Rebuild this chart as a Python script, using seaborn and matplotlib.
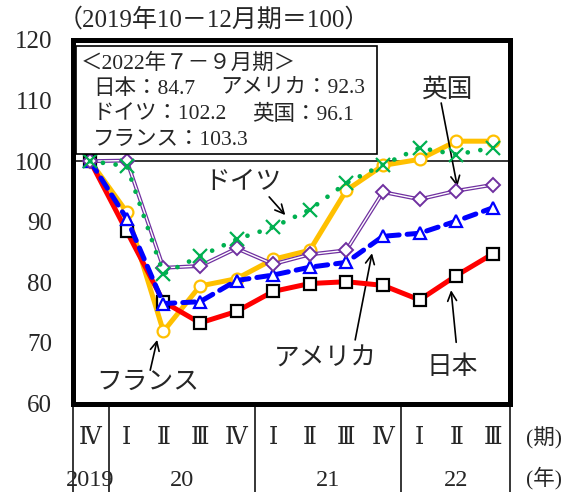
import numpy as np
import pandas as pd
import matplotlib
matplotlib.use("Agg")
import matplotlib.pyplot as plt
import matplotlib.transforms as mtransforms
from matplotlib.patches import Rectangle
from matplotlib.lines import Line2D
import seaborn as sns

# ---- data -------------------------------------------------------------
quarters = ["Ⅳ", "Ⅰ", "Ⅱ", "Ⅲ", "Ⅳ", "Ⅰ", "Ⅱ", "Ⅲ", "Ⅳ", "Ⅰ", "Ⅱ", "Ⅲ"]
years = ["2019", "20", "21", "22"]
year_pos = [0, 2.5, 6.5, 10]
year_breaks = [0.5, 4.5, 8.5]

japan = [100, 88.4, 76.8, 73.3, 75.2, 78.5, 79.8, 80.1, 79.5, 77.1, 81.1, 84.7]
usa = [100, 90.5, 76.5, 76.8, 80.3, 81.2, 82.5, 83.3, 87.6, 88.1, 90.1, 92.3]
uk = [100, 100.1, 82.4, 82.7, 85.6, 83.0, 84.6, 85.3, 94.9, 93.7, 95.1, 96.1]
germany = [100, 99.2, 81.4, 84.3, 87.1, 89.1, 92.0, 96.4, 99.4, 102.2, 101.1, 102.2]
france = [100, 91.6, 71.9, 79.4, 80.6, 83.8, 85.3, 95.2, 99.3, 100.3, 103.3, 103.3]

t = np.arange(len(quarters))

# ---- style ------------------------------------------------------------
sns.set_style("white")
plt.rcParams["font.family"] = ["Liberation Serif", "DejaVu Serif", "Noto Sans CJK JP"]
JP = ["Liberation Serif", "Noto Sans CJK JP"]

RED = "#FF0000"
BLUE = "#0000FF"
PURPLE = "#7030A0"
GREEN = "#00B050"
ORANGE = "#FFC000"

fig = plt.figure(figsize=(5.69, 4.92), dpi=100)
W, H = 569, 492
L, R, T, B = 73, 510, 40, 403.5
ax = fig.add_axes([L / W, 1 - B / H, (R - L) / W, (B - T) / H])


def frame(values):
    return pd.DataFrame({"t": t, "v": values})


# France (bottom layer)
sns.lineplot(data=frame(france), x="t", y="v", ax=ax, color=ORANGE, lw=3.6,
             marker="o", markersize=8.5, markerfacecolor="white",
             markeredgecolor=ORANGE, markeredgewidth=1.6, zorder=3)
# Japan
sns.lineplot(data=frame(japan), x="t", y="v", ax=ax, color=RED, lw=3.6,
             marker="s", markersize=8.5, markerfacecolor="white",
             markeredgecolor="black", markeredgewidth=1.6, zorder=4)
# USA
sns.lineplot(data=frame(usa), x="t", y="v", ax=ax, color=BLUE, lw=3.6,
             linestyle=(0, (2.4, 1.6)), dash_capstyle="round",
             marker="^", markersize=9, markerfacecolor="white",
             markeredgecolor=BLUE, markeredgewidth=1.6, zorder=5)
# UK: double line
sns.lineplot(data=frame(uk), x="t", y="v", ax=ax, color=PURPLE, lw=2.8, zorder=6)
sns.lineplot(data=frame(uk), x="t", y="v", ax=ax, color="white", lw=1.0,
             marker="D", markersize=7, markerfacecolor="white",
             markeredgecolor=PURPLE, markeredgewidth=1.4, zorder=6.5)
# Germany: dotted
sns.lineplot(data=frame(germany), x="t", y="v", ax=ax, color=GREEN, lw=3.4,
             linestyle=(0, (0.01, 2.7)), dash_capstyle="round",
             marker="x", markersize=10, markeredgecolor=GREEN,
             markeredgewidth=1.6, zorder=7)

# reference level
ax.axhline(100, color="black", lw=1.1, zorder=1)

ax.set_xlim(-0.47, 11.47)
ax.set_ylim(60, 120)
ax.set_yticks(range(60, 121, 10))
ax.set_xticks([])
ax.set_xlabel("")
ax.set_ylabel("")
ax.tick_params(axis="y", length=0, pad=15, labelsize=18)
for s in ax.spines.values():
    s.set_visible(True)
    s.set_linewidth(3.6)
    s.set_color("black")
    s.set_zorder(10)

# box with latest values
ax.add_patch(Rectangle(((76 - L) / (R - L), (B - 154) / (B - T)),
                       (377 - 76) / (R - L), (154 - 46) / (B - T),
                       transform=ax.transAxes, fc="white", ec="black",
                       lw=1.2, zorder=8))


def fx(px):
    return px / W


def fy(py):
    return 1 - py / H


box_fs = 15.5
fig.text(fx(81), fy(64), "＜2022年７－９月期＞", family=JP, fontsize=box_fs,
         va="center", ha="left", zorder=9)
fig.text(fx(93), fy(89), "日本：84.7", family=JP, fontsize=box_fs, va="center")
fig.text(fx(220), fy(89), "アメリカ：92.3", family=JP, fontsize=box_fs, va="center")
fig.text(fx(93), fy(115), "ドイツ：102.2", family=JP, fontsize=box_fs, va="center")
fig.text(fx(252), fy(115), "英国：96.1", family=JP, fontsize=box_fs, va="center")
fig.text(fx(93), fy(140), "フランス：103.3", family=JP, fontsize=box_fs, va="center")

# headline unit note
fig.text(fx(58), fy(20), "（2019年10－12月期＝100）", family=JP, fontsize=18,
         va="center", ha="left")

# series labels with arrows
arrow = dict(arrowstyle="->", lw=1.2, color="black", mutation_scale=16,
             shrinkA=0, shrinkB=0)
lab_fs = 18.5
ax.text(9.75, 111.7, "英国", family=JP, fontsize=lab_fs, ha="center", va="center")
ax.annotate("", xy=(10.03, 95.8), xytext=(9.59, 109.6), arrowprops=arrow)
ax.text(4.18, 96.4, "ドイツ", family=JP, fontsize=lab_fs, ha="center", va="center")
ax.annotate("", xy=(5.33, 91.1), xytext=(4.89, 94.1), arrowprops=arrow)
ax.text(1.56, 63.4, "フランス", family=JP, fontsize=lab_fs, ha="center", va="center")
ax.annotate("", xy=(1.83, 70.5), xytext=(1.64, 65.5), arrowprops=arrow)
ax.text(6.42, 67.2, "アメリカ", family=JP, fontsize=lab_fs, ha="center", va="center")
ax.annotate("", xy=(7.70, 84.8), xytext=(7.24, 70.5), arrowprops=arrow)
ax.text(9.89, 66.0, "日本", family=JP, fontsize=lab_fs, ha="center", va="center")
ax.annotate("", xy=(9.86, 78.7), xytext=(10.0, 70.1), arrowprops=arrow)

# category axis under the frame
tr = mtransforms.blended_transform_factory(ax.transData, fig.transFigure)
for i, q in enumerate(quarters):
    ax.text(i, fy(438), q, transform=tr, ha="center", va="center",
            fontsize=17, family=["DejaVu Serif", "Noto Sans CJK JP"])
for p, y in zip(year_pos, years):
    ax.text(p, fy(481), y, transform=tr, ha="center", va="center", fontsize=17.5)
for xb in [-0.47] + year_breaks + [11.47]:
    ax.add_line(Line2D([xb, xb], [fy(B), 0], transform=tr, color="black",
                       lw=1.1, clip_on=False))
fig.text(fx(544), fy(438), "(期)", family=JP, fontsize=15.5, ha="center", va="center")
fig.text(fx(544), fy(478), "(年)", family=JP, fontsize=15.5, ha="center", va="center")

fig.savefig("out.png", dpi=100)
